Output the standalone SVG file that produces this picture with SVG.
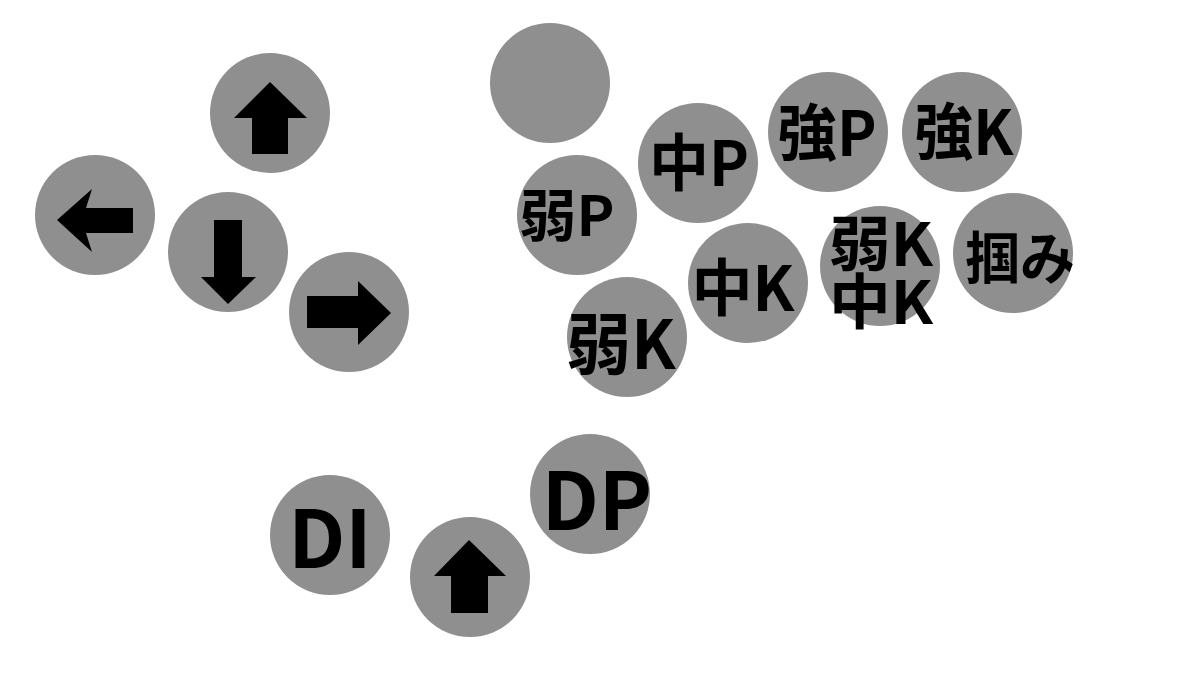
<svg xmlns="http://www.w3.org/2000/svg" width="1200" height="675" viewBox="0 0 1200 675">
<style>
.btn{fill:#8f8f8f}
.lbl{font-family:"Noto Sans CJK JP","Noto Sans",sans-serif;font-weight:700;fill:#000;text-anchor:middle}
.arr{fill:#000}
</style>
<rect width="1200" height="675" fill="#fff"/>
<g id="btn-up">
<circle class="btn" cx="270" cy="113" r="60"/>
<polygon class="arr" points="270,82 307,118 288,118 288,154 252,154 252,118 234,118"/>
</g>
<g id="btn-left">
<circle class="btn" cx="95" cy="215" r="60"/>
<polygon class="arr" points="57,220 92,189 86,208 133,208 133,233 86,233 92,252"/>
</g>
<g id="btn-down">
<circle class="btn" cx="228" cy="252" r="60"/>
<polygon class="arr" points="214,220 242,220 242,277 256,277 228,304 201,277 214,277"/>
</g>
<g id="btn-right">
<circle class="btn" cx="349" cy="312" r="60"/>
<polygon class="arr" points="307,296 358,296 358,281 391,313 358,345 358,328 307,328"/>
</g>
<g id="btn-blank">
<circle class="btn" cx="550" cy="83" r="60"/>
</g>
<g id="btn-lp">
<circle class="btn" cx="577" cy="215" r="60"/>
<text class="lbl" x="567" y="236" font-size="56" textLength="95" lengthAdjust="spacingAndGlyphs">弱P</text>
</g>
<g id="btn-mp">
<circle class="btn" cx="698" cy="163" r="60"/>
<text class="lbl" x="699" y="186" font-size="62" textLength="100" lengthAdjust="spacingAndGlyphs">中P</text>
</g>
<g id="btn-hp">
<circle class="btn" cx="828" cy="132" r="60"/>
<text class="lbl" x="827" y="156" font-size="62" textLength="99" lengthAdjust="spacingAndGlyphs">強P</text>
</g>
<g id="btn-hk">
<circle class="btn" cx="962" cy="132" r="60"/>
<text class="lbl" x="964" y="155" font-size="62" textLength="99" lengthAdjust="spacingAndGlyphs">強K</text>
</g>
<g id="btn-lkmk">
<circle class="btn" cx="880" cy="266" r="60"/>
<text class="lbl" font-size="60"><tspan x="881" y="266" textLength="104" lengthAdjust="spacingAndGlyphs">弱K</tspan><tspan x="881" y="324" textLength="104" lengthAdjust="spacingAndGlyphs">中K</tspan></text>
</g>
<g id="btn-grab">
<circle class="btn" cx="1013" cy="253" r="60"/>
<text class="lbl" x="1020" y="279" font-size="57" textLength="110" lengthAdjust="spacingAndGlyphs">掴み</text>
</g>
<g id="btn-mk">
<circle class="btn" cx="748" cy="283" r="60"/>
<text class="lbl" x="743" y="311" font-size="62" textLength="103" lengthAdjust="spacingAndGlyphs">中K</text>
</g>
<g id="btn-lk">
<circle class="btn" cx="627" cy="337" r="60"/>
<text class="lbl" x="621" y="369" font-size="67" textLength="109" lengthAdjust="spacingAndGlyphs">弱K</text>
</g>
<g id="btn-di">
<circle class="btn" cx="330" cy="535" r="60"/>
<text class="lbl" x="330" y="568" font-size="80">DI</text>
</g>
<g id="btn-up2">
<circle class="btn" cx="470" cy="577" r="60"/>
<polygon class="arr" points="469,540 506,576 488,576 488,613 451,613 451,576 434,576"/>
</g>
<g id="btn-dp">
<circle class="btn" cx="590" cy="494" r="60"/>
<text class="lbl" x="597" y="530" font-size="80">DP</text>
</g>
</svg>
